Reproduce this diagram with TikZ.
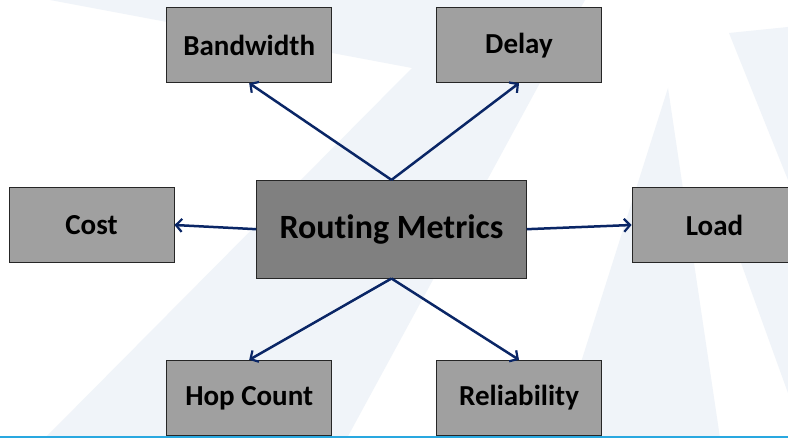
\documentclass[tikz,border=0pt]{standalone}
\usepackage{fontspec}
\setmainfont{Carlito}[Ligatures=NoCommon]
\usetikzlibrary{arrows.meta}
\definecolor{bgtint}{RGB}{240,244,249}
\definecolor{boxgray}{RGB}{160,160,160}
\definecolor{hubgray}{RGB}{128,128,128}
\definecolor{navy}{RGB}{10,38,102}
\definecolor{footerblue}{RGB}{41,168,224}
\begin{document}
\begin{tikzpicture}[x=1pt,y=-1pt,
  metric/.style={draw=black!85, line width=0.9pt, fill=boxgray, text=black,
    minimum width=165pt, minimum height=75pt, inner sep=0pt,
    font=\bfseries\fontsize{29}{32}\selectfont},
  hub/.style={metric, fill=hubgray, minimum width=269.6pt, minimum height=97.7pt,
    font=\bfseries\fontsize{34}{38}\selectfont},
  link/.style={draw=navy, line width=2.5pt,
    -{Straight Barb[length=6pt,width=13pt,line width=2.2pt]}}]
  % canvas
  \useasboundingbox (0,0) rectangle (788,438);
  \clip (0,0) rectangle (788,438);
  \fill[white] (0,0) rectangle (788,438);
  % faint backdrop stripes
  \fill[bgtint] (50,0) -- (585,0) -- (347,438) -- (45,438) -- (412,68) -- cycle;
  \fill[bgtint] (668,88) -- (720,438) -- (557,438) -- cycle;
  \fill[bgtint] (729,33) -- (788,27) -- (788,180) -- cycle;
  \fill[bgtint] (714,188) -- (788,188) -- (788,393) -- cycle;
  % boxes
  \node[metric] (bw)   at (249.2,45.2)  {Bandwidth};
  \node[metric] (dl)   at (519,45.2)    {Delay};
  \node[metric] (cost) at (91.5,225)    {Cost};
  \node[hub]    (rm)   at (391.5,229.2) {Routing Metrics};
  \node[metric] (load) at (714.5,225)   {Load};
  \node[metric] (hop)  at (249.2,397.8) {Hop Count};
  \node[metric] (rel)  at (519,397.8)   {Reliability};
  % connectors
  \draw[link] (rm.north) -- (bw.south);
  \draw[link] (rm.north) -- (dl.south);
  \draw[link] (rm.south) -- (hop.north);
  \draw[link] (rm.south) -- (rel.north);
  \draw[link] (rm.west)  -- (cost.east);
  \draw[link] (rm.east)  -- (load.west);
  % footer rule
  \draw[footerblue, line width=2pt] (0,437) -- (788,437);
\end{tikzpicture}
\end{document}
